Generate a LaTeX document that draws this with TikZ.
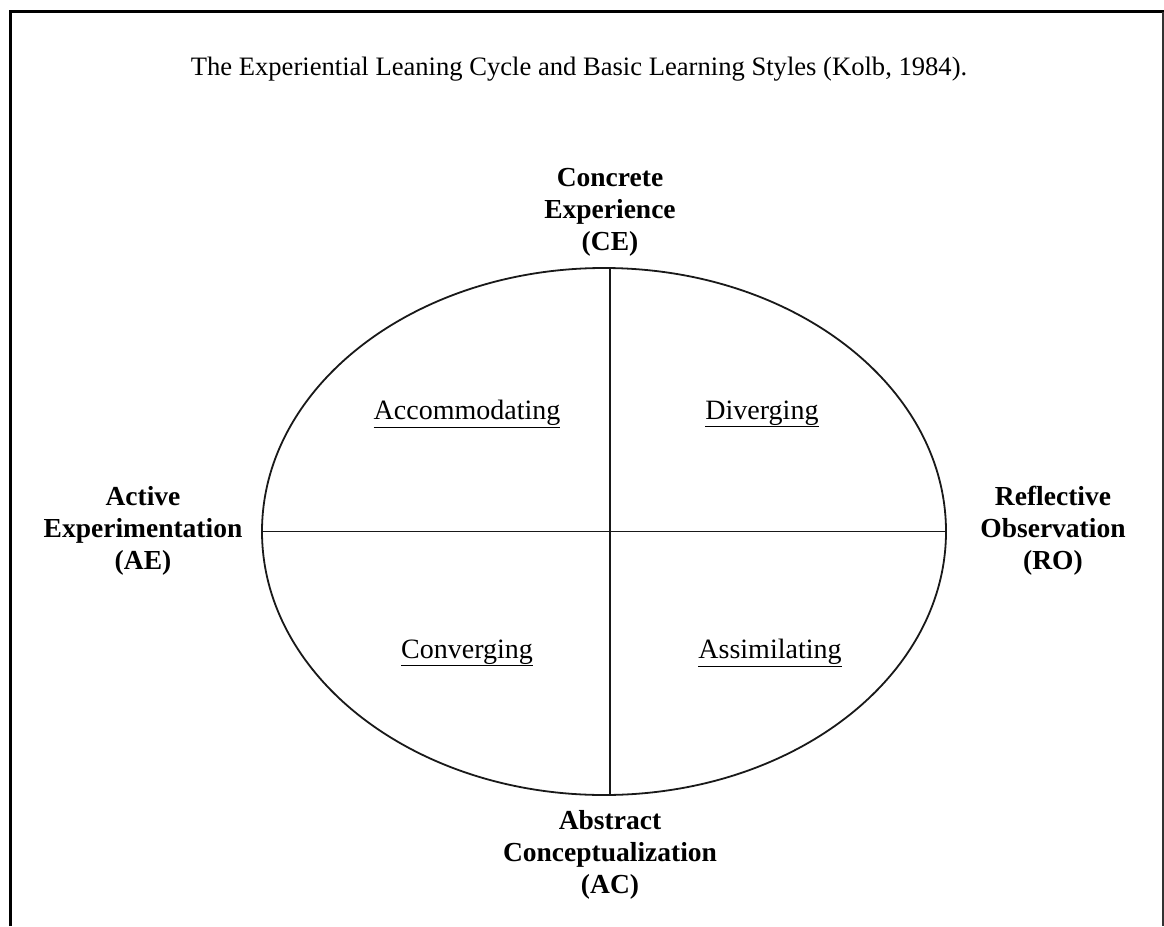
\documentclass[tikz,border=0pt]{standalone}
\usepackage{fontspec}
\setmainfont{Liberation Serif}
\usetikzlibrary{shapes.geometric}
\begin{document}
\begin{tikzpicture}[x=1pt,y=-1pt,
  pole/.style={align=center,font=\fontsize{27.5}{32}\selectfont\bfseries},
  style/.style={font=\fontsize{28}{32}\selectfont},
  axis/.style={line width=1.8pt,black!90}]
\useasboundingbox (0,0) rectangle (1164,926);
\fill[white] (0,0) rectangle (1164,926);
% frame open at the bottom
\draw[line width=3pt] (10.8,926) -- (10.8,11.8) -- (1164,11.8);
\draw[line width=1.7pt,black!80] (1163.1,11.8) -- (1163.1,926);

\node[font=\fontsize{26.6}{30}\selectfont] (title) at (579,69)
  {The Experiential Leaning Cycle and Basic Learning Styles (Kolb, 1984).};

% the cycle and its two axes
\node[draw,axis,ellipse,minimum width=684pt,minimum height=527pt,inner sep=0pt] (cycle) at (604,531.5) {};
\coordinate (top) at (610,268.2);
\coordinate (bot) at (610,794.8);
\draw[axis] (cycle.west) -- (cycle.east);
\draw[axis] (top) -- (bot);

% the four poles
\node[pole] (ce) at (610,212) {Concrete\\Experience\\(CE)};
\node[pole] (ae) at (143,531) {Active\\Experimentation\\(AE)};
\node[pole] (ro) at (1053,531) {Reflective\\Observation\\(RO)};
\node[pole] (ac) at (610,855) {Abstract\\Conceptualization\\(AC)};

% the four learning styles
\node[style] (acc) at (467,414) {\underline{Accommodating}};
\node[style] (div) at (762,414) {\underline{Diverging}};
\node[style] (con) at (467,653) {\underline{Converging}};
\node[style] (ass) at (770,653) {\underline{Assimilating}};
\end{tikzpicture}
\end{document}
